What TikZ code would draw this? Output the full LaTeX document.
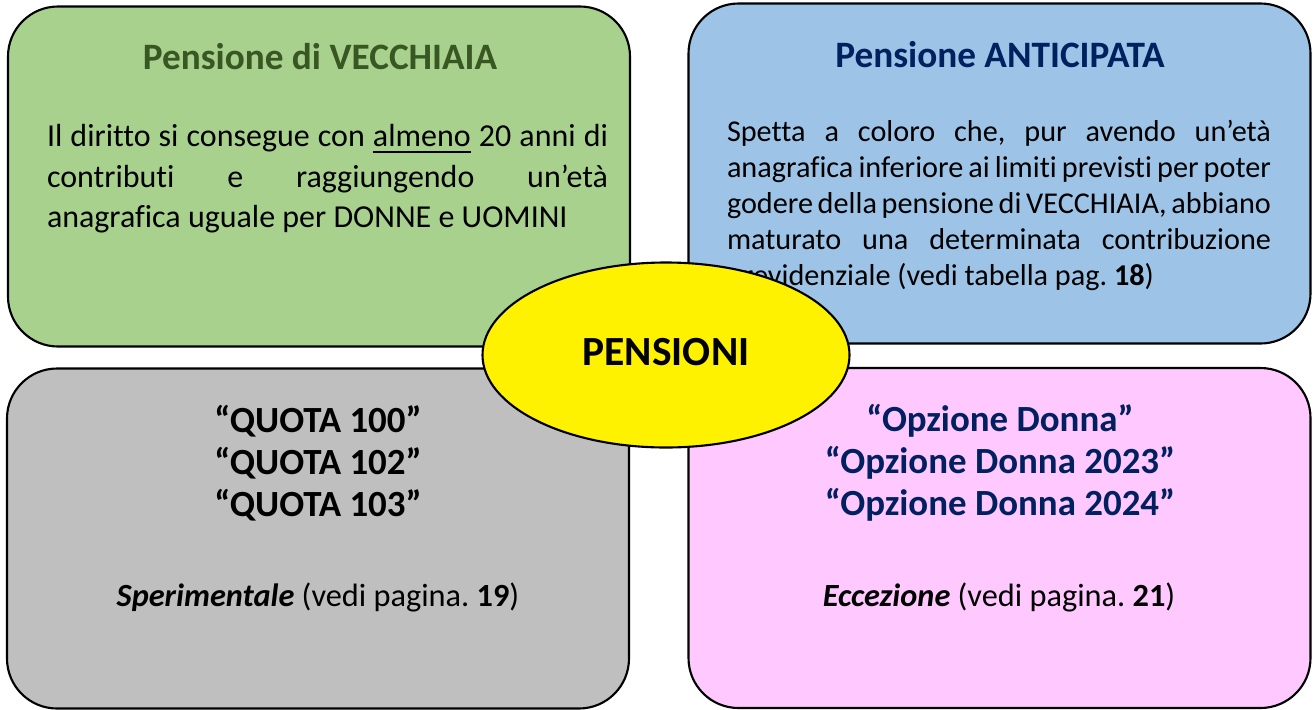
\documentclass[tikz,border=0pt]{standalone}
\usepackage{fontspec}
\setmainfont{Carlito}[Ligatures=NoCommon]
\usetikzlibrary{shapes.geometric}

\definecolor{verdebox}{HTML}{A9D18E}
\definecolor{verdescuro}{HTML}{385723}
\definecolor{azzurrobox}{HTML}{9DC3E6}
\definecolor{blunotte}{HTML}{002060}
\definecolor{grigiobox}{HTML}{BFBFBF}
\definecolor{rosabox}{HTML}{FFC9FF}

% riga giustificata di larghezza fissa
\newcommand{\rigagiust}[2]{\makebox[#1][s]{#2}}

\begin{document}
\frenchspacing
\begin{tikzpicture}[
    casella/.style={draw=black, line width=0.6pt, rounded corners=0.5cm,
        minimum width=6.22cm, minimum height=3.4cm},
    titolo/.style={font={\fontsize{10.6}{12.7}\selectfont\bfseries}},
    corpo/.style={align=left, inner sep=0pt},
    grande/.style={font={\fontsize{10.5}{12}\selectfont\bfseries}, align=center},
    nota/.style={font={\fontsize{9.2}{11}\selectfont}}
]
    \useasboundingbox (0,0) rectangle (13.16,7.09);

    % le quattro caselle
    \node[casella, fill=verdebox] (vecchiaia) at (3.19,5.325) {};
    \node[casella, fill=azzurrobox] (anticipata) at (9.995,5.355) {};
    \node[casella, fill=grigiobox] (quota) at (3.18,1.705) {};
    \node[casella, fill=rosabox] (donna) at (9.995,1.71) {};

    \node[titolo, text=verdescuro] (titvec) at (3.20,6.52) {Pensione di VECCHIAIA};
    \node[corpo, font={\fontsize{9.1}{11.5}\selectfont}] (testovec) at (3.275,5.30)
        {\rigagiust{5.61cm}{Il diritto si consegue con \underline{almeno} 20 anni di}\\
         \rigagiust{5.61cm}{contributi e raggiungendo un’età}\\
         \makebox[5.61cm][l]{anagrafica uguale per DONNE e UOMINI}};

    \node[titolo, text=blunotte] (titant) at (10.00,6.54) {Pensione ANTICIPATA};
    \node[corpo, font={\fontsize{8.6}{10.25}\selectfont}] (testoant) at (9.99,5.04)
        {\rigagiust{5.44cm}{Spetta a coloro che, pur avendo un’età}\\
         \rigagiust{5.44cm}{anagrafica inferiore ai limiti previsti per poter}\\
         \rigagiust{5.44cm}{godere della pensione di VECCHIAIA, abbiano}\\
         \rigagiust{5.44cm}{maturato una determinata contribuzione}\\
         \makebox[5.44cm][l]{previdenziale (vedi tabella pag. \textbf{18})}};

    \node[grande] (quote) at (3.18,2.46) {“QUOTA 100”\\“QUOTA 102”\\“QUOTA 103”};
    \node[nota] (sperim) at (3.18,1.12) {\textbf{\textit{Sperimentale}} (vedi pagina. \textbf{19})};

    \node[grande, text=blunotte] (opzioni) at (10.00,2.46)
        {“Opzione Donna”\\“Opzione Donna 2023”\\“Opzione Donna 2024”};
    \node[nota] (eccez) at (9.99,1.12) {\textbf{\textit{Eccezione}} (vedi pagina. \textbf{21})};

    % ellisse centrale
    \node[ellipse, draw=black, line width=0.6pt, fill=yellow, minimum width=3.67cm,
        minimum height=1.85cm, inner sep=0pt] (pensioni) at (6.66,3.54) {};
    \node[font={\fontsize{11.8}{14}\selectfont\bfseries}] (scritta) at (6.66,3.57) {PENSIONI};
\end{tikzpicture}
\end{document}
